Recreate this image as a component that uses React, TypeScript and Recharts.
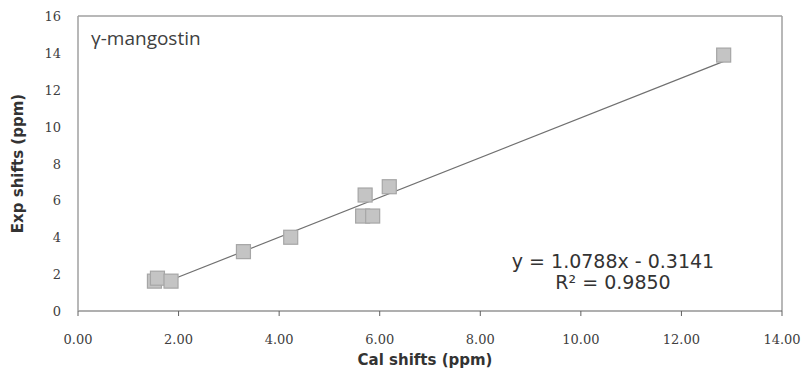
import React from "react";
import {
  ScatterChart,
  Scatter,
  XAxis,
  YAxis,
  ReferenceLine,
} from "recharts";

// Cal shifts (x) vs Exp shifts (y)
const calShifts = [1.52, 1.58, 1.85, 3.29, 4.23, 5.66, 5.86, 5.71, 6.19, 12.84];
const expShifts = [1.62, 1.78, 1.62, 3.22, 4.0, 5.15, 5.15, 6.29, 6.74, 13.88];

const xTicks = [0, 2, 4, 6, 8, 10, 12, 14];
const yTicks = [0, 2, 4, 6, 8, 10, 12, 14, 16];

const slope = 1.0788;
const intercept = -0.3141;
const rSquared = 0.985;

const points = calShifts.map((x, i) => ({ x, y: expShifts[i] }));
const xMin = Math.min(...calShifts);
const xMax = Math.max(...calShifts);
const trend = [xMin, xMax].map((x) => ({ x, y: slope * x + intercept }));

const serif = "DejaVu Serif";

const XTick = (props: any) => {
  const { x, y, payload } = props;
  return (
    <text
      x={x}
      y={y + 26}
      textAnchor="middle"
      style={{ fontFamily: serif, fontSize: 13, fill: "#404040" }}
    >
      {Number(payload.value).toFixed(2)}
    </text>
  );
};

const YTick = (props: any) => {
  const { payload, y } = props;
  return (
    <text
      x={61}
      y={y + 5}
      textAnchor="end"
      style={{ fontFamily: serif, fontSize: 13, fill: "#404040" }}
    >
      {payload.value}
    </text>
  );
};

const SquareDot = (props: any) => {
  const { cx, cy } = props;
  return (
    <rect
      x={cx - 7}
      y={cy - 7}
      width={14}
      height={14}
      fill="#c4c4c4"
      stroke="#a6a6a6"
      strokeWidth={1.2}
    />
  );
};

const NoDot = () => null;

const App: React.FC = () => {
  return (
    <div style={{ position: "absolute", left: 0, top: 0, width: 808, height: 371, background: "#fff" }}>
      <ScatterChart
        width={808}
        height={371}
        margin={{ top: 16, right: 26, left: 0, bottom: 0 }}
      >
        <XAxis
          type="number"
          dataKey="x"
          domain={[0, 14]}
          ticks={xTicks}
          tick={XTick}
          axisLine={{ stroke: "#606060", strokeWidth: 1.2 }}
          tickLine={{ stroke: "#606060" }}
          tickSize={5}
          height={60}
          label={{
            value: "Cal shifts (ppm)",
            position: "insideBottom",
            offset: 6,
            dx: -5,
            style: { fontFamily: "DejaVu Sans", fontWeight: "bold", fontSize: 15, fill: "#333" },
          }}
        />
        <YAxis
          type="number"
          dataKey="y"
          domain={[0, 16]}
          ticks={yTicks}
          tick={YTick}
          axisLine={{ stroke: "#a0a0a0", strokeWidth: 1.5 }}
          tickLine={false}
          width={78}
          label={{
            value: "Exp shifts (ppm)",
            angle: -90,
            position: "insideLeft",
            offset: 18,
            style: { textAnchor: "middle", fontFamily: "DejaVu Sans", fontWeight: "bold", fontSize: 15, fill: "#333" },
          }}
        />
        <ReferenceLine y={16} stroke="#a0a0a0" strokeWidth={1.5} />
        <ReferenceLine x={14} stroke="#a0a0a0" strokeWidth={1.5} />
        <Scatter
          data={trend}
          line={{ stroke: "#707070", strokeWidth: 1.2 }}
          shape={NoDot}
          isAnimationActive={false}
        />
        <Scatter data={points} shape={SquareDot} isAnimationActive={false} />
      </ScatterChart>
      <div
        style={{
          position: "absolute",
          left: 91,
          top: 25,
          fontFamily: "Open Sans",
          fontSize: 19,
          color: "#404040",
          whiteSpace: "nowrap",
        }}
      >
        γ-mangostin
      </div>
      <div
        style={{
          position: "absolute",
          left: 463,
          top: 251,
          width: 300,
          textAlign: "center",
          fontFamily: "DejaVu Sans",
          fontSize: 19,
          lineHeight: "21px",
          color: "#333",
        }}
      >
        <div>{`y = ${slope.toFixed(4)}x - ${Math.abs(intercept).toFixed(4)}`}</div>
        <div>{`R² = ${rSquared.toFixed(4)}`}</div>
      </div>
    </div>
  );
};

export default App;
